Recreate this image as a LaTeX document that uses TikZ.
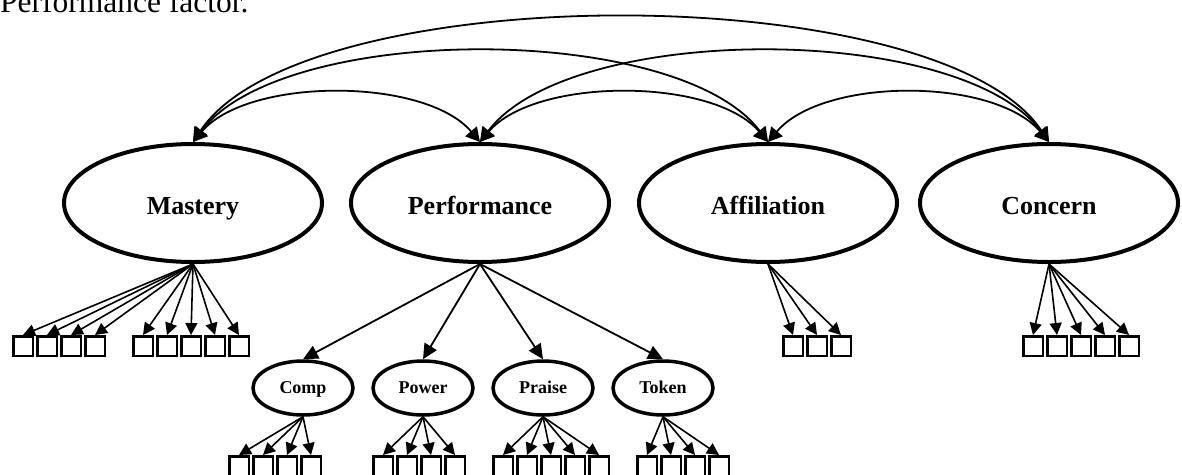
\documentclass[tikz,border=0pt]{standalone}
\usepackage{fontspec}
\setmainfont{Liberation Serif}
\usetikzlibrary{shapes.geometric}
\usetikzlibrary{arrows.meta}
\tikzset{factor/.style={draw,shape=ellipse,line width=4pt,minimum width=258pt,minimum height=118pt,inner sep=0pt,text height=24pt,text depth=2pt,font=\fontsize{26}{30}\selectfont\bfseries}}
\tikzset{subfactor/.style={draw,shape=ellipse,line width=3.5pt,minimum width=100pt,minimum height=54pt,inner sep=0pt,text height=12pt,text depth=2pt,font=\fontsize{18}{20}\selectfont\bfseries}}
\tikzset{item/.style={draw,shape=rectangle,line width=2.5pt,minimum size=19.5pt,inner sep=0pt}}
\tikzset{load/.style={line width=1.6pt,-{Triangle[length=12pt,width=12pt]}}}
\tikzset{subload/.style={line width=1.8pt,-{Triangle[length=15pt,width=14pt]}}}
\tikzset{cov/.style={line width=1.8pt,{Triangle[length=14pt,width=15pt]}-{Triangle[length=14pt,width=15pt]}}}

\begin{document}
\begin{tikzpicture}[x=1pt, y=-1pt]
    \useasboundingbox (0,0) rectangle (1182,474);
    \clip (0,0) rectangle (1182,474);

    \node[anchor=base west, inner sep=0pt, font=\fontsize{31.5}{34}\selectfont] (title) at (0,12) {Performance factor.};

    % first order factors
    \node[factor] (mastery) at (193,203) {Mastery};
    \node[factor] (performance) at (480,203) {Performance};
    \node[factor] (affiliation) at (768,203) {Affiliation};
    \node[factor] (concern) at (1049,203) {Concern};

    % second level under performance
    \node[subfactor] (comp) at (303,388) {Comp};
    \node[subfactor] (power) at (423,388) {Power};
    \node[subfactor] (praise) at (543,388) {Praise};
    \node[subfactor] (token) at (663,388) {Token};

    \draw[subload] (performance.south) to (comp.north);
    \draw[subload] (performance.south) to (power.north);
    \draw[subload] (performance.south) to (praise.north);
    \draw[subload] (performance.south) to (token.north);

    % covariances
    \draw[cov] (mastery.north) .. controls +(55,-65) and +(-55,-65) .. (performance.north);
    \draw[cov] (performance.north) .. controls +(55,-65) and +(-55,-65) .. (affiliation.north);
    \draw[cov] (affiliation.north) .. controls +(55,-65) and +(-55,-65) .. (concern.north);
    \draw[cov] (mastery.north) .. controls +(90,-120) and +(-90,-120) .. (affiliation.north);
    \draw[cov] (performance.north) .. controls +(90,-120) and +(-90,-120) .. (concern.north);
    \draw[cov] (mastery.north) .. controls +(110,-165) and +(-110,-165) .. (concern.north);

    % indicators
    \foreach \i in {1,...,4} {
        \node[item] (m\i) at ({-1+24*\i},346) {};
        \draw[load] (mastery.south) to (m\i.north);
    }
    \foreach \i in {5,...,9} {
        \node[item] (m\i) at ({23+24*\i},346) {};
        \draw[load] (mastery.south) to (m\i.north);
    }
    \foreach \i in {1,...,3} {
        \node[item] (a\i) at ({769+24*\i},346) {};
        \draw[load] (affiliation.south) to (a\i.north);
    }
    \foreach \i in {1,...,5} {
        \node[item] (c\i) at ({1009+24*\i},346) {};
        \draw[load] (concern.south) to (c\i.north);
    }
    \foreach \i in {1,...,4} {
        \node[item] (comp\i) at ({215+24*\i},466) {};
        \draw[load] (comp.south) to (comp\i.north);
    }
    \foreach \i in {1,...,4} {
        \node[item] (power\i) at ({359+24*\i},466) {};
        \draw[load] (power.south) to (power\i.north);
    }
    \foreach \i in {1,...,5} {
        \node[item] (praise\i) at ({479+24*\i},466) {};
        \draw[load] (praise.south) to (praise\i.north);
    }
    \foreach \i in {1,...,4} {
        \node[item] (token\i) at ({623+24*\i},466) {};
        \draw[load] (token.south) to (token\i.north);
    }

\end{tikzpicture}
\end{document}
